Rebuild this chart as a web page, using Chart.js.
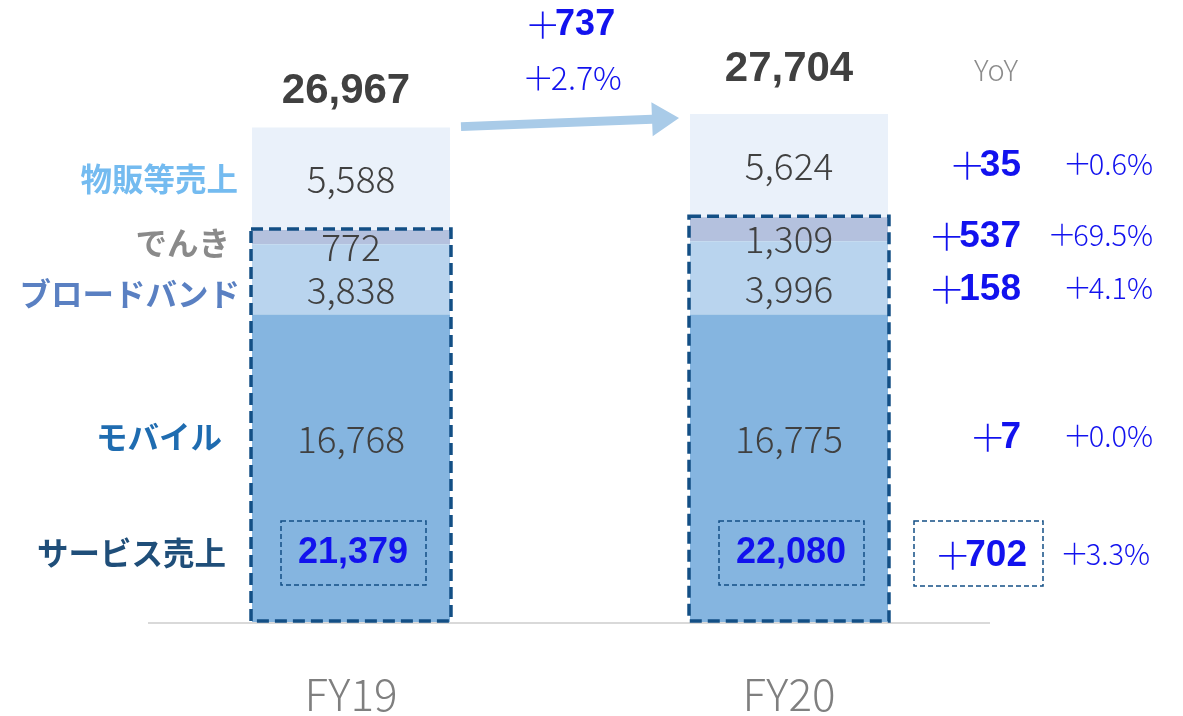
<!DOCTYPE html>
<html>
<head>
<meta charset="utf-8">
<script src="https://cdn.jsdelivr.net/npm/chart.js@4.4.1/dist/chart.umd.min.js"></script>
<style>
  body { margin: 0; background: #fff; }
  #wrap { width: 1183px; height: 716px; }
</style>
</head>
<body>
<div id="wrap"><canvas id="myChart" width="1183" height="716"></canvas></div>
<script>
let labels = ['FY19', 'FY20'];
let mobile = [16768, 16775];
let broadband = [3838, 3996];
let denki = [772, 1309];
let merch = [5588, 5624];
let serviceTotal = [21379, 22080];
let totals = [26967, 27704];

let segNames = ['モバイル', 'ブロードバンド', 'でんき', '物販等売上'];
let segColors = ['#85b5e0', '#b9d4ee', '#b4c1de', '#eaf1fa'];
let nameColors = ['#1f6cb0', '#5a80c2', '#8a8a8a', '#74bbf0'];
let yoyDiff = ['+7', '+158', '+537', '+35'];
let yoyPct = ['+0.0%', '+4.1%', '+69.5%', '+0.6%'];
let serviceDiff = '+702';
let servicePct = '+3.3%';
let totalDiff = '+737';
let totalPct = '+2.7%';

const BLUE = '#1212ee';
const DARK = '#134f85';
const JP = '"Noto Sans CJK JP", "Noto Sans", sans-serif';
const NUM = '"Liberation Sans", Arial, sans-serif';

// wide "+" in light weight, digits in bold, right aligned at x
function plusBold(c, txt, x, y, size) {
  let num = txt.replace('+', '');
  c.font = 'bold ' + size + 'px ' + NUM;
  let w2 = c.measureText(num).width;
  c.font = '300 ' + size + 'px ' + JP;
  let w1 = c.measureText('＋').width - size * 0.16;
  c.textAlign = 'left';
  c.fillText('＋', x - w2 - w1, y);
  c.font = 'bold ' + size + 'px ' + NUM;
  c.fillText(num, x - w2, y);
  return w1 + w2;
}

// light text with a wide plus sign, right aligned at x
function plusLight(c, txt, x, y, size) {
  let rest = txt.replace('+', '');
  c.font = '300 ' + size + 'px ' + JP;
  let w2 = c.measureText(rest).width;
  let w1 = c.measureText('＋').width - size * 0.11;
  c.textAlign = 'left';
  c.fillText('＋', x - w2 - w1, y);
  c.fillText(rest, x - w2, y);
  return w1 + w2;
}

let annotations = {
  id: 'annotations',
  beforeDatasetsDraw(chart) {
    let c = chart.ctx;
    let ys = chart.scales.y;
    c.save();
    c.strokeStyle = '#d9d9d9';
    c.lineWidth = 2;
    c.beginPath();
    c.moveTo(148, ys.getPixelForValue(0) + 1);
    c.lineTo(990, ys.getPixelForValue(0) + 1);
    c.stroke();
    c.restore();
  },
  afterDatasetsDraw(chart) {
    let c = chart.ctx;
    let ys = chart.scales.y;
    let metas = [0, 1, 2, 3].map(i => chart.getDatasetMeta(i));
    let base = ys.getPixelForValue(0);
    c.save();
    c.textBaseline = 'middle';

    // value labels inside the segments
    let offs = [-29, 11, 10, 0];
    labels.forEach((lab, j) => {
      metas.forEach((m, i) => {
        let el = m.data[j];
        let mid = (el.y + el.base) / 2 + offs[i];
        c.font = '300 37px ' + JP;
        c.fillStyle = '#404040';
        c.textAlign = 'center';
        let v = chart.data.datasets[i].data[j];
        c.fillText(v.toLocaleString('en-US'), el.x, mid);
      });
      let el0 = metas[0].data[j];

      // service sales big dashed box
      let top = metas[2].data[j].y - 1;
      let bot = base - 1;
      c.strokeStyle = DARK;
      c.lineWidth = 3.5;
      c.setLineDash([12, 6]);
      c.strokeRect(el0.x - el0.width / 2 - 1, top, el0.width + 2, bot - top);

      // service total small box
      let sy = base - 69;
      c.lineWidth = 1.5;
      c.setLineDash([5, 3]);
      c.strokeRect(el0.x - 70, sy - 32, 145, 64);
      c.setLineDash([]);
      c.fillStyle = BLUE;
      c.font = 'bold 36px ' + NUM;
      c.textAlign = 'center';
      c.fillText(serviceTotal[j].toLocaleString('en-US'), el0.x + 2, sy);

      // totals above bars
      let topEl = metas[3].data[j];
      c.fillStyle = '#404040';
      c.font = 'bold 42px ' + NUM;
      c.fillText(totals[j].toLocaleString('en-US'), topEl.x - (j === 0 ? 5 : 0), topEl.y - (j === 0 ? 36 : 45));
    });

    // left category names
    let nameRight = [222, 240, 230, 238];
    let nameOff = [-31, 15, 6, 0];
    let e19 = metas.map(m => m.data[0]);
    c.textAlign = 'right';
    c.font = 'bold 31.5px ' + JP;
    segNames.forEach((n, i) => {
      c.fillStyle = nameColors[i];
      c.fillText(n, nameRight[i], (e19[i].y + e19[i].base) / 2 + nameOff[i]);
    });
    c.fillStyle = '#1f4e79';
    c.fillText('サービス売上', 226, base - 69);

    // YoY column
    let e20 = metas.map(m => m.data[1]);
    let yoyOff = [-30, 12, 8, 0];
    c.fillStyle = '#8c8c8c';
    c.font = '300 29px ' + JP;
    c.textAlign = 'center';
    c.fillText('YoY', 996, 70);
    segNames.forEach((n, i) => {
      let y = (e20[i].y + e20[i].base) / 2 + yoyOff[i];
      c.fillStyle = BLUE;
      plusBold(c, yoyDiff[i], 1021, y, 37);
      plusLight(c, yoyPct[i], 1153, y - 2, 29);
    });
    let sy = base - 68;
    c.strokeStyle = DARK;
    c.lineWidth = 1.5;
    c.setLineDash([5, 3]);
    c.strokeRect(914, sy - 33, 129, 65);
    c.setLineDash([]);
    c.fillStyle = BLUE;
    plusBold(c, serviceDiff, 1027, sy + 2, 37);
    plusLight(c, servicePct, 1150, sy, 29);

    // growth arrow between bars
    let a0 = metas[3].data[0], a1 = metas[3].data[1];
    let x0 = a0.x + a0.width / 2 + 11, y0 = a0.y - 1;
    let x1 = a1.x - a1.width / 2 - 11, y1 = a1.y + 4;
    let ang = Math.atan2(y1 - y0, x1 - x0);
    c.save();
    c.translate(x0, y0);
    c.rotate(ang);
    let len = Math.hypot(x1 - x0, y1 - y0);
    c.fillStyle = '#a9cbe8';
    c.beginPath();
    c.moveTo(0, -4.5);
    c.lineTo(len - 27, -4.5);
    c.lineTo(len - 27, -17);
    c.lineTo(len, 0);
    c.lineTo(len - 27, 17);
    c.lineTo(len - 27, 4.5);
    c.lineTo(0, 4.5);
    c.closePath();
    c.fill();
    c.restore();

    c.fillStyle = BLUE;
    c.font = 'bold 36px ' + NUM;
    let wNum = c.measureText(totalDiff.replace('+', '')).width;
    c.font = '300 36px ' + JP;
    let wPlus = c.measureText('＋').width - 36 * 0.16;
    plusBold(c, totalDiff, 570 + (wNum + wPlus) / 2, 25, 36);
    c.font = '300 32px ' + JP;
    let wp = c.measureText(totalPct.replace('+', '')).width + c.measureText('＋').width - 32 * 0.11;
    plusLight(c, totalPct, 572 + wp / 2, 78, 32);
    c.restore();
  }
};

let ctx = document.getElementById('myChart').getContext('2d');
let myChart = new Chart(ctx, {
  type: 'bar',
  data: {
    labels: labels,
    datasets: [mobile, broadband, denki, merch].map((d, i) => ({
      label: segNames[i],
      data: d,
      backgroundColor: segColors[i],
      borderWidth: 0,
      barPercentage: 0.904,
      categoryPercentage: 0.5
    }))
  },
  options: {
    responsive: false,
    animation: false,
    layout: { padding: { left: 132, right: 175, top: 72, bottom: 2 } },
    plugins: { legend: { display: false }, tooltip: { enabled: false } },
    scales: {
      x: {
        stacked: true,
        grid: { display: false, drawTicks: false },
        border: { display: false },
        ticks: { color: '#7f7f7f', padding: 46, font: { size: 44, family: JP, weight: '300' } },
        afterFit(scale) { scale.height = 92; }
      },
      y: {
        stacked: true,
        display: false,
        min: 0,
        max: 30000
      }
    }
  },
  plugins: [annotations]
});
</script>
</body>
</html>
